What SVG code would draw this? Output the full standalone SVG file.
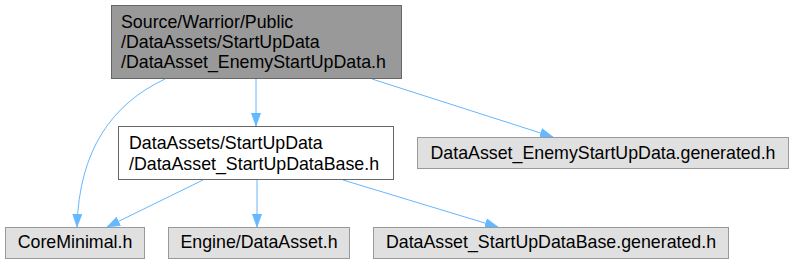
<svg xmlns="http://www.w3.org/2000/svg" width="794" height="265" viewBox="0 0 794 265">
  <style>
    .lbl { font-family: "Liberation Sans", Arial, Helvetica, sans-serif; font-size: 17.8px; fill: #000000; }
    .mid { text-anchor: middle; }
    .root rect { fill: #999999; stroke: #666666; stroke-width: 1; }
    .file rect { fill: #ffffff; stroke: #666666; stroke-width: 1; }
    .ext rect { fill: #e0e0e0; stroke: #999999; stroke-width: 1; }
    .edge { fill: none; stroke: #63b8ff; stroke-width: 1; }
  </style>
  <defs>
    <marker id="arrow" markerUnits="userSpaceOnUse" markerWidth="14" markerHeight="10" viewBox="0 0 14 10" refX="13" refY="5" orient="auto">
      <path d="M0,0.3 L13,5 L0,9.7 Z" fill="#63b8ff" stroke="#63b8ff" stroke-width="0.6"/>
    </marker>
  </defs>

  <!-- dependency edges -->
  <g id="edges">
    <path class="edge" marker-end="url(#arrow)" d="M165,79 C112,104 79,150 77,227"/>
    <path class="edge" marker-end="url(#arrow)" d="M256,79 L256,126"/>
    <path class="edge" marker-end="url(#arrow)" d="M372,79 L553,137"/>
    <path class="edge" marker-end="url(#arrow)" d="M203,180 L107,227"/>
    <path class="edge" marker-end="url(#arrow)" d="M257,180 L257,227"/>
    <path class="edge" marker-end="url(#arrow)" d="M343,180 L498,227"/>
  </g>

  <g id="node_enemy_startup" class="root">
    <rect x="111.5" y="5.5" width="290" height="73"/>
    <text class="lbl" x="121" y="28">Source/Warrior/Public</text>
    <text class="lbl" x="121" y="48">/DataAssets/StartUpData</text>
    <text class="lbl" x="121" y="68">/DataAsset_EnemyStartUpData.h</text>
  </g>

  <g id="node_startup_base" class="file">
    <rect x="118.5" y="126.5" width="275" height="53"/>
    <text class="lbl" x="129" y="149">DataAssets/StartUpData</text>
    <text class="lbl" x="129" y="170">/DataAsset_StartUpDataBase.h</text>
  </g>

  <g id="node_enemy_generated" class="ext">
    <rect x="417.5" y="137.5" width="371" height="31"/>
    <text class="lbl mid" x="603" y="159">DataAsset_EnemyStartUpData.generated.h</text>
  </g>

  <g id="node_core_minimal" class="ext">
    <rect x="5.5" y="227.5" width="139" height="31"/>
    <text class="lbl mid" x="75" y="248">CoreMinimal.h</text>
  </g>

  <g id="node_engine_data_asset" class="ext">
    <rect x="168.5" y="227.5" width="181" height="31"/>
    <text class="lbl mid" x="259" y="248">Engine/DataAsset.h</text>
  </g>

  <g id="node_base_generated" class="ext">
    <rect x="373.5" y="227.5" width="355" height="31"/>
    <text class="lbl mid" x="551" y="248">DataAsset_StartUpDataBase.generated.h</text>
  </g>
</svg>
